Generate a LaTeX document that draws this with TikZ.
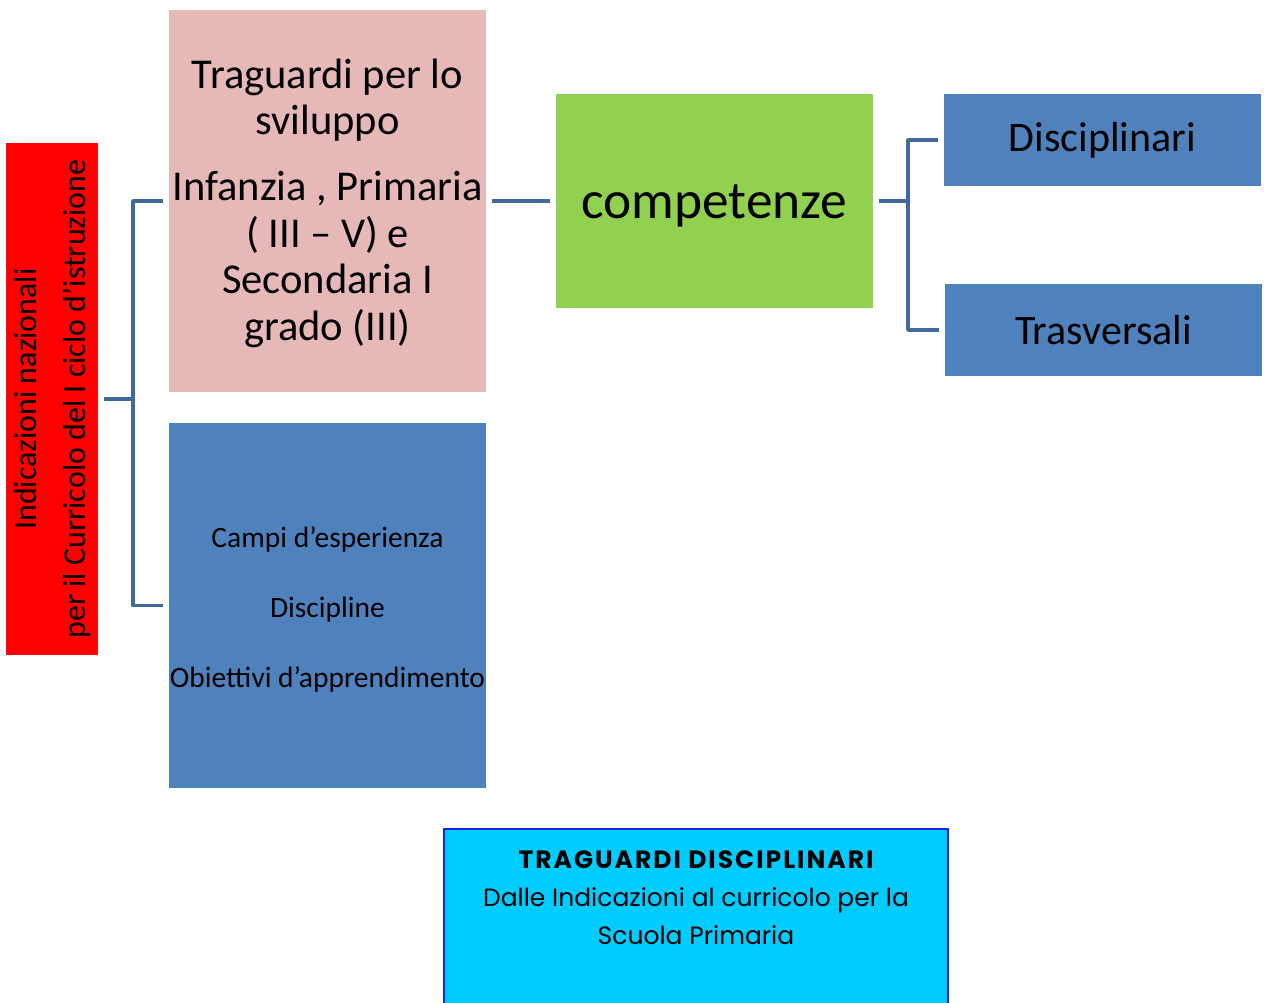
\documentclass[tikz,border=0pt]{standalone}
\usepackage{fontspec}
\setmainfont{Carlito}
\newfontfamily\comicfont{Poppins}
\definecolor{pinkbox}{HTML}{E6B9B8}
\definecolor{bluebox}{HTML}{4F81BD}
\definecolor{greenbox}{HTML}{92D050}
\definecolor{redbox}{HTML}{FF0000}
\definecolor{cyanbox}{HTML}{00CCFF}
\definecolor{connc}{HTML}{41699C}
\definecolor{borderc}{HTML}{1F1FE6}
\tikzset{
  box/.style={draw=none, inner sep=0pt, align=center},
  conn/.style={draw=connc, line width=3.6pt, line join=round},
}
\begin{document}
\begin{tikzpicture}[x=1pt,y=-1pt]
\useasboundingbox[fill=white] (0,0) rectangle (1266,1003);
% boxes
\node[box, fill=redbox, minimum width=92pt, minimum height=512pt] (red) at (52,399) {};
\node[box, rotate=90, font=\fontsize{32}{49}\selectfont] at (red.center) {Indicazioni nazionali\\per il Curricolo del I ciclo d’istruzione};
\node[box, fill=pinkbox, minimum width=317pt, minimum height=382pt] (pink) at (327.5,201) {};
\node[box, font=\fontsize{42.5}{46.5}\selectfont] at ([yshift=-2pt]pink.center) {Traguardi per lo\\sviluppo\\[19.5pt]Infanzia , Primaria\\( III – V) e\\Secondaria I\\grado (III)};
\node[box, fill=bluebox, minimum width=317pt, minimum height=365pt] (lower) at (327.5,605.5) {};
\node[box, font=\fontsize{29.5}{70}\selectfont] at ([yshift=-4pt]lower.center) {Campi d’esperienza\\Discipline\\Obiettivi d’apprendimento};
\node[box, fill=greenbox, minimum width=317pt, minimum height=214pt] (green) at (714.5,201) {};
\node[box, font=\fontsize{53.4}{60}\selectfont] at ([yshift=-5pt]green.center) {competenze};
\node[box, fill=bluebox, minimum width=317pt, minimum height=92pt, font=\fontsize{42}{46}\selectfont] (disc) at (1102.5,140) {Disciplinari};
\node[box, fill=bluebox, minimum width=317pt, minimum height=92pt, font=\fontsize{42}{46}\selectfont] (trasv) at (1103.5,330) {Trasversali};
% bottom box
\fill[cyanbox] (444,829) rectangle (948,1003);
\draw[borderc, line width=2.5pt] (444,1004) -- (444,829) -- (948,829) -- (948,1004);
\node[box, anchor=north, font=\comicfont\fontsize{25}{38}\selectfont] (tb) at (696,850) {{\bfseries\addfontfeature{LetterSpace=8}TRAGUARDI DISCIPLINARI}\\Dalle Indicazioni al curricolo per la\\Scuola Primaria};
% connectors
\coordinate (lb) at (133,399);
\draw[conn] ([xshift=6pt]red.east) -- (lb);
\draw[conn] ([xshift=-6pt]pink.west) -| (lb) |- ([xshift=-6pt]lower.west);
\draw[conn] ([xshift=6pt]pink.east) -- ([xshift=-6pt]green.west);
\coordinate (rb) at (908,201);
\draw[conn] ([xshift=6pt]green.east) -- (rb);
\draw[conn] ([xshift=-6pt]disc.west) -| (rb) |- ([xshift=-6pt]trasv.west);
\end{tikzpicture}
\end{document}
